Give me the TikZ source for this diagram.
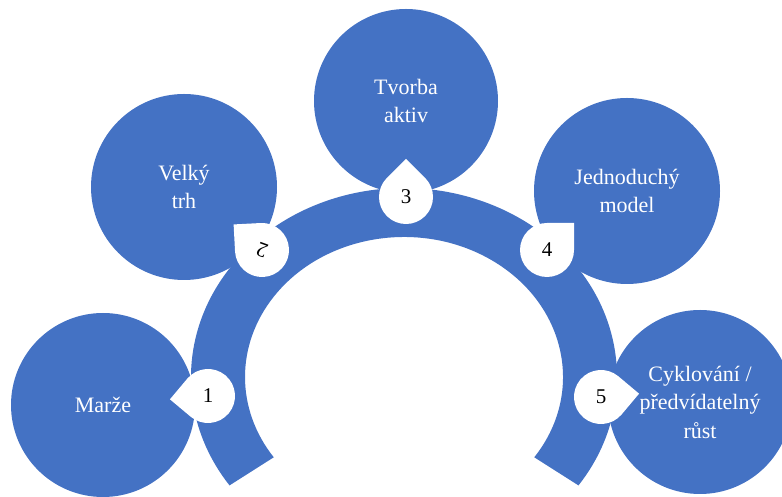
\documentclass[tikz,border=0pt]{standalone}
\usepackage{fontspec}
\setmainfont{Liberation Serif}
\usetikzlibrary{calc}
\definecolor{blu}{HTML}{4472C4}
\tikzset{
  bub/.style={circle, fill=blu, minimum size=#1, inner sep=0pt, text=white, align=center, font=\fontsize{22}{28.5}\selectfont},
  bub/.default=184pt,
  num/.style={inner sep=0pt, text=black, font=\fontsize{21}{24}\selectfont}
}
\newcommand\mydrop[2]{%
  \fill[white] ($(#1)+({#2}:38.2pt)$) -- ($(#1)+({#2+45}:27pt)$)
    arc[start angle={#2+45}, delta angle=270, radius=27pt] -- cycle;}
\begin{document}
\begin{tikzpicture}[x=1pt,y=1pt]
\useasboundingbox (0,0) rectangle (782,497);
\clip (0,0) rectangle (782,497);
% circles
\node[bub] (c1) at (103,92) {Marže};
\node[bub=186pt] (c2) at (184,310) {Velký\\trh};
\node[bub] (c3) at (406,396) {Tvorba\\aktiv};
\node[bub=186pt] (c4) at (627,306) {Jednoduchý\\model};
\node[bub] (c5) at (700,95) {Cyklování /\\předvídatelný\\růst};
% arc band
\fill[blu, shift={(404,120)}] (215:213pt and 189pt)
  arc[start angle=215, end angle=-35, x radius=213pt, y radius=189pt]
  -- (-35:159pt and 140pt)
  arc[start angle=-35, end angle=215, x radius=159pt, y radius=140pt] -- cycle;
% teardrops
\coordinate (p1) at (208,101);
\coordinate (p2) at (262,247);
\coordinate (p3) at (406,300);
\coordinate (p4) at (547,247);
\coordinate (p5) at (601,100);
\mydrop{p1}{185}
\mydrop{p2}{138}
\mydrop{p3}{90}
\mydrop{p4}{45}
\mydrop{p5}{5}
\node[num] (n1) at (p1) {1};
\node[num, rotate=160] (n2) at (p2) {2};
\node[num] (n3) at (p3) {3};
\node[num] (n4) at (p4) {4};
\node[num] (n5) at (p5) {5};
\end{tikzpicture}
\end{document}
